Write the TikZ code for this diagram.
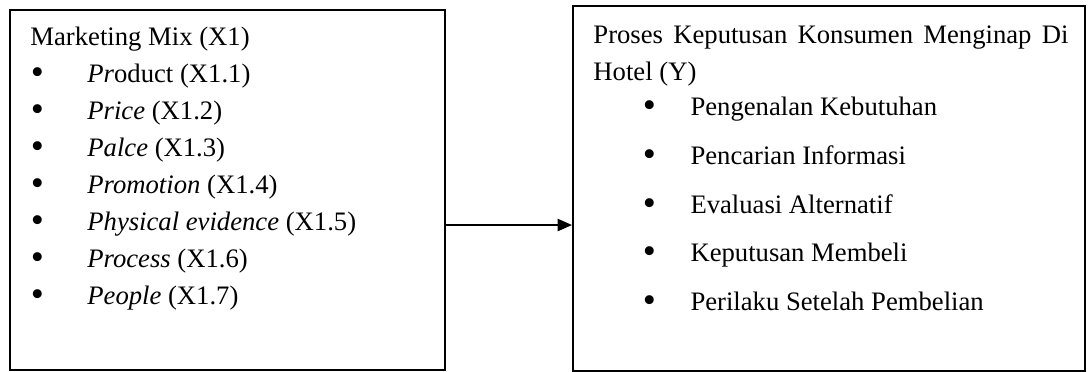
\documentclass[tikz,border=0pt]{standalone}
\usepackage{fontspec}
\setmainfont{Liberation Serif}
\usetikzlibrary{matrix, positioning, arrows.meta}
\newcommand{\blt}{\raisebox{-0.9pt}{\scalebox{1.4}{\textbullet}}}
\tikzset{
box/.style={draw, rectangle, line width=0.9pt, anchor=north west, inner sep=0pt},
ttl/.style={anchor=base west, inner sep=0pt},
list/.style={
  matrix of nodes,
  anchor=north west,
  inner sep=0pt,
  row sep=#1,
  column sep=0pt,
  nodes={inner sep=0pt, anchor=base west, text height=11pt, text depth=5.65pt}
},
arr/.style={line width=0.9pt, -{Triangle[length=6.5pt, width=5.5pt]}},
}

\begin{document}
\begin{tikzpicture}[x=0.45pt, y=-0.45pt, font=\fontsize{12}{14}\selectfont]
                \useasboundingbox (0,0) rectangle (1091,371);
                \node[box, minimum width=195.75pt, minimum height=162pt] (mix) at (9,9) {};
                \node[box, minimum width=230.4pt, minimum height=164.25pt] (hotel) at (572,5) {};
                % variabel X
                \node[ttl] (mixttl) at (30,45) {Marketing Mix (X1)};
                \matrix (mixlist) [list=0pt, column 1/.style={nodes={text width=25.4pt, align=left}}] at (30.5,57.6) {
                    \blt & \textit{Pr}oduct (X1.1) \\
                    \blt & \textit{Price} (X1.2) \\
                    \blt & \textit{Palce} (X1.3) \\
                    \blt & \textit{Promotion} (X1.4) \\
                    \blt & \textit{Physical evidence} (X1.5) \\
                    \blt & \textit{Process} (X1.6) \\
                    \blt & \textit{People} (X1.7) \\
                };
                % variabel Y
                \node[ttl] (hotelttl) at (593,43) {\makebox[213.75pt][s]{Proses Keputusan Konsumen Menginap Di}};
                \node[ttl] (hotelttl2) at (593,80) {Hotel (Y)};
                \matrix (hotellist) [list=5.29pt, column 1/.style={nodes={text width=21.4pt, align=left}}] at (642.5,90.6) {
                    \blt & Pengenalan Kebutuhan \\
                    \blt & Pencarian Informasi \\
                    \blt & Evaluasi Alternatif \\
                    \blt & Keputusan Membeli \\
                    \blt & Perilaku Setelah Pembelian \\
                };
                \coordinate (lvl) at (0,225);
                \draw[arr] (mix.east |- lvl) -- (hotel.west |- lvl);
            \end{tikzpicture}
\end{document}
